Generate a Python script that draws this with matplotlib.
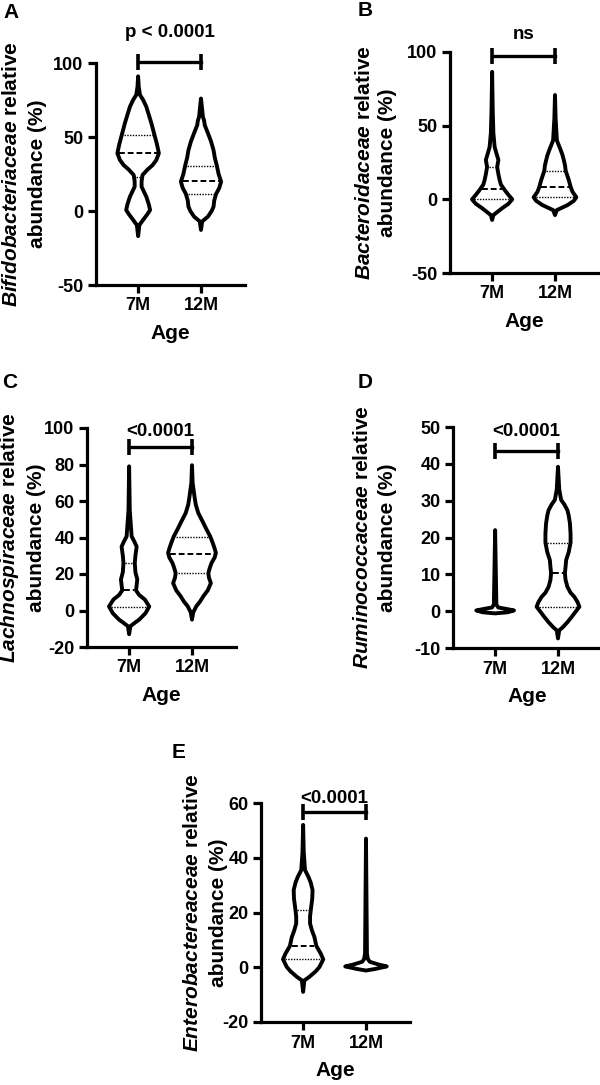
import numpy as np
import matplotlib
matplotlib.use("Agg")
import matplotlib.pyplot as plt

plt.rcParams["font.family"] = ["Liberation Sans", "DejaVu Sans"]
plt.rcParams["font.weight"] = "bold"
plt.rcParams["axes.unicode_minus"] = False
plt.rcParams["mathtext.fontset"] = "custom"
plt.rcParams["mathtext.it"] = "Liberation Sans:italic:bold"
plt.rcParams["mathtext.rm"] = "Liberation Sans:bold"
plt.rcParams["mathtext.bf"] = "Liberation Sans:bold"

groups = ["7M", "12M"]

# violin outlines: value levels and half widths (category units)
a_7m_y = [-17, -9.5, -6, -2, 0.7, 4.5, 9.7, 16.4, 20, 24.3, 28, 31, 34.5, 39, 45, 51.4, 59.4, 65, 70.5, 75, 78.4, 84, 91]
a_7m_w = [0, 0.02, 0.08, 0.15, 0.19, 0.17, 0.13, 0.055, 0.055, 0.07, 0.15, 0.23, 0.29, 0.33, 0.3, 0.26, 0.21, 0.17, 0.13, 0.08, 0.03, 0.01, 0]
a_12m_y = [-12.8, -7, -3.8, 0, 3, 7, 11.5, 15.5, 19.8, 25, 31, 36, 41, 47, 52.6, 58, 61, 63.7, 68, 76]
a_12m_w = [0, 0.02, 0.11, 0.17, 0.2, 0.21, 0.24, 0.29, 0.32, 0.28, 0.25, 0.22, 0.2, 0.16, 0.11, 0.06, 0.05, 0.03, 0.02, 0]

b_7m_y = [-14, -10.7, -8, -6, -3, 0, 3, 6.3, 10, 13, 17, 22, 26.7, 31, 35.5, 45, 60, 86.5]
b_7m_w = [0, 0.02, 0.1, 0.16, 0.26, 0.32, 0.26, 0.2, 0.14, 0.12, 0.1, 0.08, 0.1, 0.07, 0.04, 0.02, 0.01, 0]
b_12m_y = [-10.7, -7.3, -5.5, -3.9, -1, 1.4, 5, 8.3, 13, 19.4, 23, 26.7, 30, 33.5, 40, 55, 70.8]
b_12m_w = [0, 0.03, 0.12, 0.2, 0.3, 0.34, 0.28, 0.25, 0.22, 0.17, 0.16, 0.14, 0.12, 0.09, 0.03, 0.01, 0]

c_7m_y = [-13, -8.6, -6.5, -5, -1.5, 2.2, 6, 8.5, 11, 14, 17, 21, 26, 30, 35, 38, 40.6, 55, 79]
c_7m_w = [0, 0.02, 0.1, 0.16, 0.26, 0.32, 0.25, 0.16, 0.11, 0.12, 0.13, 0.1, 0.09, 0.1, 0.12, 0.08, 0.04, 0.01, 0]
c_12m_y = [-5, -1, 2.4, 5, 7.8, 11, 15, 18, 20.5, 23, 26, 29, 31.5, 34, 37, 40.6, 44.5, 48.7, 53.4, 58, 62.4, 70, 79.6]
c_12m_w = [0, 0.02, 0.07, 0.13, 0.18, 0.25, 0.3, 0.27, 0.26, 0.28, 0.31, 0.36, 0.38, 0.36, 0.33, 0.29, 0.23, 0.17, 0.1, 0.06, 0.04, 0.01, 0]

d_7m_y = [-0.6, -0.3, 0.2, 0.6, 1.0, 1.8, 22]
d_7m_w = [0, 0.2, 0.3, 0.18, 0.05, 0.02, 0]
d_12m_y = [-7.4, -5.2, -4.3, -3, -1.5, 1.2, 2.5, 3.9, 5, 6.6, 8.5, 10.3, 12, 13.9, 16, 18.6, 21, 23.8, 26, 27.4, 29, 30.2, 33, 39.2]
d_12m_w = [0, 0.02, 0.08, 0.15, 0.22, 0.34, 0.31, 0.26, 0.2, 0.15, 0.12, 0.11, 0.12, 0.13, 0.17, 0.2, 0.2, 0.19, 0.17, 0.15, 0.1, 0.05, 0.02, 0]

e_7m_y = [-9, -4.8, -3.5, -1.5, 0.1, 2.9, 5, 7.8, 11, 13.5, 16, 18.5, 21.5, 25, 28.2, 31, 33, 35.5, 42, 52]
e_7m_w = [0, 0.02, 0.1, 0.2, 0.26, 0.32, 0.28, 0.21, 0.18, 0.14, 0.11, 0.11, 0.125, 0.145, 0.15, 0.12, 0.085, 0.03, 0.01, 0]
e_12m_y = [-1.2, -0.6, 0.3, 1, 2, 3, 5, 47]
e_12m_w = [0, 0.15, 0.33, 0.2, 0.06, 0.03, 0.015, 0]

# quartiles (q1, median, q3); None where too thin to see
a_quart = [(23, 39, 51.5), (11.3, 20.3, 30.6)]
b_quart = [(0, 7, 22), (1.4, 8.3, 19.4)]
c_quart = [(1.8, 11, 26), (20.5, 31, 40.5)]
d_quart = [None, (1.2, 10.3, 18.6)]
e_quart = [(2.9, 7.8, 21), None]

panels = [
    dict(letter="A", fam="Bifidobacteriaceae", shapes=[(a_7m_y, a_7m_w), (a_12m_y, a_12m_w)],
         quart=a_quart, yticks=[-50, 0, 50, 100], bracket=100.7, label="p < 0.0001"),
    dict(letter="B", fam="Bacteroidaceae", shapes=[(b_7m_y, b_7m_w), (b_12m_y, b_12m_w)],
         quart=b_quart, yticks=[-50, 0, 50, 100], bracket=97, label="ns"),
    dict(letter="C", fam="Lachnospiraceae", shapes=[(c_7m_y, c_7m_w), (c_12m_y, c_12m_w)],
         quart=c_quart, yticks=[-20, 0, 20, 40, 60, 80, 100], bracket=89.6, label="<0.0001"),
    dict(letter="D", fam="Ruminococcaceae", shapes=[(d_7m_y, d_7m_w), (d_12m_y, d_12m_w)],
         quart=d_quart, yticks=[-10, 0, 10, 20, 30, 40, 50], bracket=43.5, label="<0.0001"),
    dict(letter="E", fam="Enterobactereaceae", shapes=[(e_7m_y, e_7m_w), (e_12m_y, e_12m_w)],
         quart=e_quart, yticks=[-20, 0, 20, 40, 60], bracket=56.7, label="<0.0001"),
]

# layout in pixels: axes left, top, bottom; ylabel line x's; label offset above bracket
layout = [
    dict(left=96, top=63, bottom=285, ylab=(12, 38), off=29, let=(3, 13)),
    dict(left=450, top=52, bottom=273, ylab=(364, 388), off=22, let=(358, 11)),
    dict(left=87, top=428, bottom=647, ylab=(10, 37), off=15, let=(2, 383)),
    dict(left=453, top=427, bottom=648, ylab=(363, 388), off=19, let=(358, 383)),
    dict(left=261, top=803, bottom=1022, ylab=(192, 218), off=14, let=(172, 752)),
]

W, H = 600, 1085
fig = plt.figure(figsize=(W / 100, H / 100), dpi=100)
AX_W = 149

for p, lay in zip(panels, layout):
    ax = fig.add_axes([lay["left"] / W, 1 - lay["bottom"] / H, AX_W / W,
                       (lay["bottom"] - lay["top"]) / H])
    ax.set_xlim(0.33, 2.7)
    ax.set_ylim(p["yticks"][0], p["yticks"][-1])
    for s in ["top", "right"]:
        ax.spines[s].set_visible(False)
    for s in ["left", "bottom"]:
        ax.spines[s].set_linewidth(2.3)
    ax.tick_params(width=2.3, length=6, labelsize=13, pad=3)
    ax.set_xticks([1, 2])
    ax.set_xticklabels(groups)
    ax.set_yticks(p["yticks"])
    for lab in ax.get_xticklabels() + ax.get_yticklabels():
        lab.set_fontweight("bold")
    ax.set_xlabel("Age", fontsize=15, fontweight="bold", labelpad=7)

    for i, ((vy, vw), q) in enumerate(zip(p["shapes"], p["quart"])):
        pos = i + 1
        vy = np.array(vy)
        vw = np.array(vw)
        xs = np.concatenate([pos + vw, (pos - vw)[::-1]])
        ys = np.concatenate([vy, vy[::-1]])
        ax.fill(xs, ys, facecolor="white", edgecolor="black", lw=2.8,
                joinstyle="round", zorder=3)
        if q is not None:
            for k, val in enumerate(q):
                hw = max(np.interp(val, vy, vw) - 0.03, 0.01)
                ls = (0, (3, 1.5)) if k == 1 else (0, (1, 1))
                ax.plot([pos - hw, pos + hw], [val, val], color="black",
                        lw=1.4 if k == 1 else 1.0, ls=ls, zorder=4)

    yb = p["bracket"]
    ax.plot([1, 2], [yb, yb], color="black", lw=2.4, marker="|", ms=11,
            mew=2.6, clip_on=False, zorder=5)
    ax.annotate(p["label"], xy=(1.5, yb), xytext=(0, lay["off"] * 0.72),
                textcoords="offset points", ha="center", va="center",
                fontsize=13.5, fontweight="bold", annotation_clip=False)

    yc = 1 - (lay["top"] + lay["bottom"]) / 2 / H
    x1, x2 = lay["ylab"]
    fig.text(x1 / W, yc, r"$\mathit{" + p["fam"] + "}$ relative", rotation=90,
             ha="center", va="center", fontsize=15, fontweight="bold")
    fig.text(x2 / W, yc, "abundance (%)", rotation=90, ha="center",
             va="center", fontsize=15, fontweight="bold")
    lx, ly = lay["let"]
    fig.text(lx / W, 1 - ly / H, p["letter"], ha="left", va="center",
             fontsize=15, fontweight="bold")

fig.savefig("out.png", dpi=100, facecolor="white")
